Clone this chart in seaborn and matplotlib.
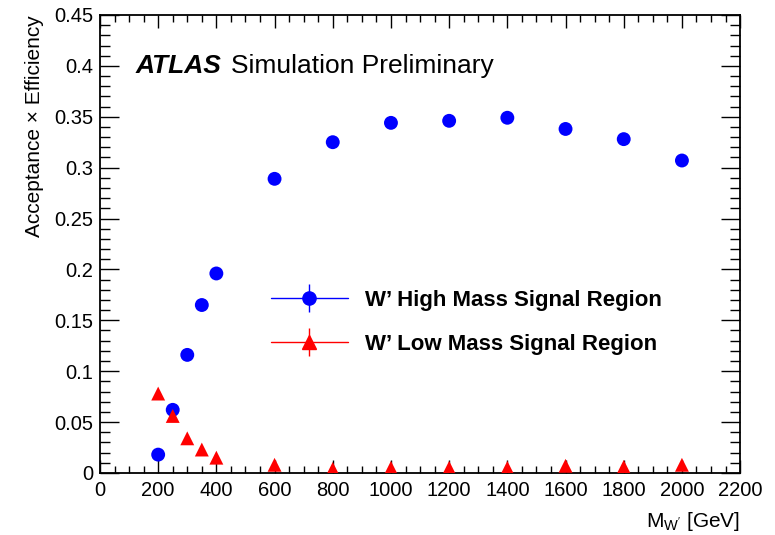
"""acceptance x efficiency for the W' signal regions"""

import seaborn as sns
import pandas as pd
import matplotlib.pyplot as plt
from matplotlib.lines import Line2D
from matplotlib.legend_handler import HandlerTuple
from matplotlib.ticker import MultipleLocator

mass = [200, 250, 300, 350, 400, 600, 800, 1000, 1200, 1400, 1600, 1800, 2000]
high_mass_sr = [0.018, 0.062, 0.116, 0.165, 0.196, 0.289, 0.325, 0.344, 0.346, 0.349, 0.338, 0.328, 0.307]
low_mass_sr = [0.078, 0.056, 0.034, 0.023, 0.015, 0.008, 0.004, 0.005, 0.005, 0.005, 0.007, 0.006, 0.008]
labels = ["W\u2019 High Mass Signal Region", "W\u2019 Low Mass Signal Region"]
colors = ["#0000ff", "#ff0000"]
yticks = [0, 0.05, 0.1, 0.15, 0.2, 0.25, 0.3, 0.35, 0.4, 0.45]

sns.set_theme(style="ticks")
plt.rcParams["font.family"] = ["Liberation Sans", "DejaVu Sans"]
plt.rcParams["text.color"] = "black"
plt.rcParams["axes.labelcolor"] = "black"
plt.rcParams["xtick.color"] = "black"
plt.rcParams["ytick.color"] = "black"

df = pd.concat([
    pd.DataFrame({"mass": mass, "eff": high_mass_sr, "region": labels[0]}),
    pd.DataFrame({"mass": mass, "eff": low_mass_sr, "region": labels[1]}),
])

fig = plt.figure(figsize=(7.75, 5.35), dpi=100)
ax = fig.add_axes([0.129, 0.116, 0.826, 0.856])

sns.scatterplot(data=df, x="mass", y="eff", hue="region", style="region",
                palette=colors, markers=["o", "^"], s=100, linewidth=0,
                legend=False, ax=ax, zorder=3)

ax.set_xlim(0, 2200)
ax.set_ylim(0, 0.45)
ax.xaxis.set_major_locator(MultipleLocator(200))
ax.xaxis.set_minor_locator(MultipleLocator(50))
ax.set_yticks(yticks)
ax.set_yticklabels(["0" if v == 0 else f"{v:g}" for v in yticks])
ax.yaxis.set_minor_locator(MultipleLocator(0.01))
ax.set_ylim(0, 0.45)

ax.tick_params(which="both", direction="in", top=True, right=True,
               labelsize=14.5, color="black", labelcolor="black", width=1)
ax.tick_params(axis="x", which="major", length=9.5, pad=6)
ax.tick_params(axis="x", which="minor", length=5)
ax.tick_params(axis="y", which="major", length=14, pad=5)
ax.tick_params(axis="y", which="minor", length=7)
for sp in ax.spines.values():
    sp.set_linewidth(1.3)
    sp.set_color("black")

ax.set_xlabel("M$_{\\mathregular{W'}}$ [GeV]", fontsize=15, loc="right", labelpad=7)
ax.set_ylabel("Acceptance \u00d7 Efficiency", fontsize=15, loc="top", labelpad=7)

# ATLAS label
ax.text(0.055, 0.873, "ATLAS", transform=ax.transAxes, fontsize=19,
        fontweight="bold", fontstyle="italic", va="baseline")
ax.text(0.205, 0.873, "Simulation Preliminary", transform=ax.transAxes,
        fontsize=19, va="baseline")

# legend entries with error-bar style handles
handles = []
for c, m in zip(colors, ["o", "^"]):
    hline = Line2D([], [], color=c, lw=1)
    vline = Line2D([], [], color=c, marker="|", ms=20, mew=1, ls="none")
    dot = Line2D([], [], color=c, marker=m, ms=9.5, ls="none")
    handles.append((hline, vline, dot))
ax.legend(handles, labels, handler_map={tuple: HandlerTuple(ndivide=1)},
          loc="upper left", bbox_to_anchor=(0.267, 0.40), frameon=False,
          prop={"weight": "bold", "size": 16}, handlelength=3.45,
          handletextpad=0.8, labelspacing=1.05, borderpad=0, borderaxespad=0)

plt.savefig("out.png", dpi=100)
plt.close()
